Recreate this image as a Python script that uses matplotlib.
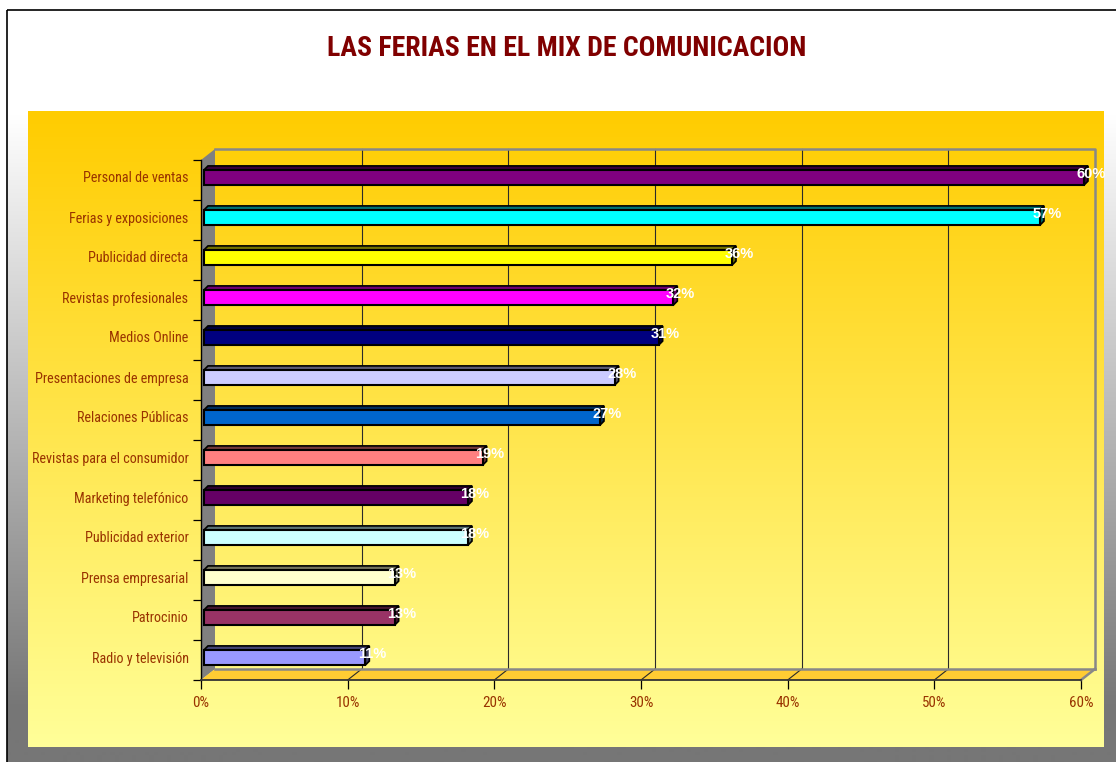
import numpy as np
import matplotlib
matplotlib.use("Agg")
import matplotlib.pyplot as plt
from matplotlib import font_manager
from matplotlib.transforms import ScaledTranslation
from matplotlib.patches import Polygon, Rectangle

# ---------------- data ----------------
categories = ["Personal de ventas", "Ferias y exposiciones", "Publicidad directa",
              "Revistas profesionales", "Medios Online", "Presentaciones de empresa",
              "Relaciones Públicas", "Revistas para el consumidor", "Marketing telefónico",
              "Publicidad exterior", "Prensa empresarial", "Patrocinio", "Radio y televisión"]
values = [60, 57, 36, 32, 31, 28, 27, 19, 18, 18, 13, 13, 11]
bar_colors = ["#800080", "#00FFFF", "#FFFF00", "#FF00FF", "#000080", "#CCCCFF", "#0066CC",
              "#FF8080", "#660066", "#CCFFFF", "#FFFFCC", "#993366", "#9999FF"]
x_ticks = [0, 10, 20, 30, 40, 50, 60]
x_tick_labels = ["0%", "10%", "20%", "30%", "40%", "50%", "60%"]
title = "LAS FERIAS EN EL MIX DE COMUNICACION"

# ---------------- fonts ----------------
names = {f.name for f in font_manager.fontManager.ttflist}
regular = "Liberation Sans" if "Liberation Sans" in names else "DejaVu Sans"
narrow = None
for cand in ["Liberation Sans Narrow", "Arial Narrow", "Roboto Condensed", "Open Sans Condensed",
             "Noto Sans Condensed", "Nimbus Sans Narrow"]:
    if cand in names:
        narrow = cand
        break
if narrow is None:
    extra = sorted(n_ for n_ in names if ("Narrow" in n_ or "Condensed" in n_))
    if extra:
        narrow = extra[0]
if narrow is not None:
    lab_font, lab_size, xlab_size, title_size = narrow, 10.2, 10.8, 20
else:
    lab_font, lab_size, xlab_size, title_size = regular, 9.2, 9.5, 16.5

W, H = 1116, 762
DPI = 100
fig = plt.figure(figsize=(W / DPI, H / DPI), dpi=DPI)
fig.patch.set_facecolor("white")

# ---------------- background (pixel coords, y down) ----------------
bg = fig.add_axes([0, 0, 1, 1])
bg.set_xlim(0, W)
bg.set_ylim(H, 0)
bg.axis("off")

ys = np.arange(10, H + 1)
g = np.clip(255 - (ys - 115) * (255 - 120) / (700 - 115), 118, 255) / 255.0
frame_img = np.repeat(g[:, None], 3, axis=1)[:, None, :]
bg.imshow(frame_img, extent=(7, W, H, 10), aspect="auto", interpolation="bilinear", zorder=0)
bg.add_patch(Rectangle((7, 10), W, H, fill=False, edgecolor="black", lw=1.2, zorder=1))

t = np.linspace(0, 1, 300)[:, None]
top_c = np.array([255, 204, 0]) / 255.0
bot_c = np.array([255, 255, 153]) / 255.0
panel = (top_c * (1 - t) + bot_c * t)[:, None, :]
bg.imshow(panel, extent=(28, 1104, 747, 111), aspect="auto", interpolation="bilinear", zorder=2)

fig.text(566.5 / W, 1 - 49 / H, title, ha="center", va="center", color="#800000",
         fontsize=title_size, fontweight="bold", family=[lab_font, "DejaVu Sans"])

# ---------------- main axes (front plane) ----------------
x0, x1, ytop, ybot = 201, 1081, 160, 680
ax = fig.add_axes([x0 / W, 1 - ybot / H, (x1 - x0) / W, (ybot - ytop) / H])
ax.patch.set_alpha(0)
n = len(categories)
XMAX = 60
ax.set_xlim(0, XMAX)
ax.set_ylim(n - 0.5, -0.5)
PX = XMAX / (x1 - x0)      # data units per pixel (x)
PY = 1.0 / 40.0            # data units per pixel (y)

# walls
wx, wy = 14 * PX, -11 * PY
yb, yt = n - 0.5, -0.5
ax.add_patch(Polygon([(0, yt), (wx, yt + wy), (wx, yb + wy), (0, yb)], closed=True,
                     facecolor="#808080", edgecolor="none", clip_on=False, zorder=1))
ax.add_patch(Polygon([(0, yb), (wx, yb + wy), (XMAX + wx, yb + wy), (XMAX, yb)], closed=True,
                     facecolor="#FFCC33", edgecolor="none", clip_on=False, zorder=1))
for tv in x_ticks[1:-1]:
    ax.plot([tv + wx, tv + wx], [yt + wy, yb + wy], color="#2a2a2a", lw=0.8, clip_on=False, zorder=1.5)
    ax.plot([tv, tv + wx], [yb, yb + wy], color="#2a2a2a", lw=0.8, clip_on=False, zorder=1.5)
ax.plot([wx, XMAX + wx, XMAX + wx], [yt + wy, yt + wy, yb + wy], color="#888888", lw=1.8,
        clip_on=False, zorder=1.6)
ax.plot([0 + wx, XMAX + wx], [yb + wy, yb + wy], color="#888888", lw=1.8, clip_on=False, zorder=1.6)
ax.plot([XMAX, XMAX + wx], [yb, yb + wy], color="#888888", lw=1.8, clip_on=False, zorder=1.6)

# spines & ticks
for s in ["top", "right"]:
    ax.spines[s].set_visible(False)
ax.spines["left"].set_color("black")
ax.spines["left"].set_linewidth(1.0)
ax.spines["bottom"].set_color("#333333")
ax.spines["bottom"].set_linewidth(1.3)
ax.spines["left"].set_zorder(2)
ax.spines["bottom"].set_zorder(2)

lab_color = "#993300"
idx = np.arange(n)
ax.set_xticks(x_ticks)
ax.set_xticklabels(x_tick_labels, family=[lab_font, "DejaVu Sans"], fontsize=xlab_size, color=lab_color)
ax.tick_params(axis="x", direction="out", length=6.5, width=0.9, color="black", pad=5)
ax.set_yticks(idx - 3 * PY)
ax.set_yticklabels(categories, family=[lab_font, "DejaVu Sans"], fontsize=lab_size, color=lab_color)
ax.tick_params(axis="y", which="major", length=0, pad=9)
ax.set_yticks(np.arange(-0.5, n, 1.0), minor=True)
ax.tick_params(axis="y", which="minor", direction="out", length=5.8, width=0.9, color="black")

# ---------------- bars ----------------
shift = ax.transData + ScaledTranslation(3 / DPI, 2.5 / DPI, fig.dpi_scale_trans)
bh = 0.38
dx, dy = 4 * PX, -4 * PY


def darker(c, f):
    r, g_, b = matplotlib.colors.to_rgb(c)
    return (r * f, g_ * f, b * f)


for i, (v, c) in enumerate(zip(values, bar_colors)):
    top = i - bh / 2
    bot = i + bh / 2
    ax.add_patch(Polygon([(0, top), (dx, top + dy), (v + dx, top + dy), (v, top)], closed=True,
                         facecolor=darker(c, 0.45), edgecolor="black", lw=1.2,
                         transform=shift, clip_on=False, zorder=3))
    ax.add_patch(Polygon([(v, top), (v + dx, top + dy), (v + dx, bot + dy), (v, bot)], closed=True,
                         facecolor=darker(c, 0.4), edgecolor="black", lw=1.2,
                         transform=shift, clip_on=False, zorder=3))

ax.barh(idx, values, height=bh, color=bar_colors, edgecolor="black", linewidth=1.5,
        transform=shift, clip_on=False, zorder=4)

lab_shift = ax.transData + ScaledTranslation(10 / DPI, 5.5 / DPI, fig.dpi_scale_trans)
for i, v in enumerate(values):
    ax.text(v, i, f"{v}%", transform=lab_shift, ha="center", va="center", color="white",
            fontsize=10.5, fontweight="bold", family=[regular, "DejaVu Sans"], zorder=6,
            clip_on=False)

ax.set_xlim(0, XMAX)
ax.set_ylim(n - 0.5, -0.5)

fig.savefig("out.png", dpi=DPI)
